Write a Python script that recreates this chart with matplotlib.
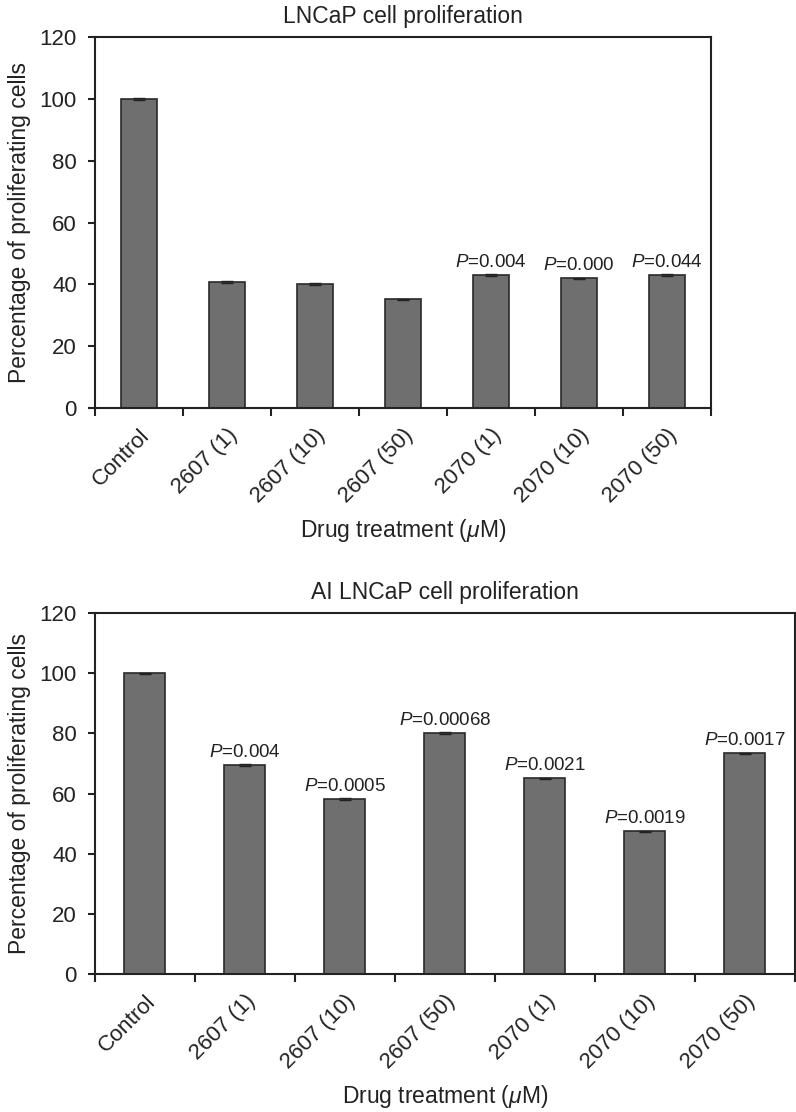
import matplotlib
matplotlib.use("Agg")
import matplotlib.pyplot as plt
import numpy as np

plt.rcParams['font.family'] = ['Liberation Sans', 'DejaVu Sans']
plt.rcParams['mathtext.fontset'] = 'custom'
plt.rcParams['mathtext.rm'] = 'Liberation Sans'
plt.rcParams['mathtext.it'] = 'Liberation Sans:italic'
plt.rcParams['text.color'] = '#222222'
plt.rcParams['axes.labelcolor'] = '#222222'
plt.rcParams['xtick.labelcolor'] = '#222222'
plt.rcParams['ytick.labelcolor'] = '#222222'

categories = ["Control", "2607 (1)", "2607 (10)", "2607 (50)",
              "2070 (1)", "2070 (10)", "2070 (50)"]

lncap_vals = [100, 40.7, 40.2, 35.2, 43.0, 42.0, 43.0]
lncap_err = [0.3, 0.3, 0.3, 0.2, 0.2, 0.2, 0.2]
lncap_p = [None, None, None, None, "0.004", "0.000", "0.044"]

ai_vals = [100, 69.5, 58.2, 80.0, 65.1, 47.5, 73.4]
ai_err = [0.2, 0.3, 0.3, 0.3, 0.2, 0.2, 0.2]
ai_p = [None, "0.004", "0.0005", "0.00068", "0.0021", "0.0019", "0.0017"]

yticks = [0, 20, 40, 60, 80, 100, 120]

fig = plt.figure(figsize=(7.96, 11.12), dpi=100)
ax1 = fig.add_axes([0.1193, 0.6331, 0.7739, 0.3336])
ax2 = fig.add_axes([0.1193, 0.1241, 0.8794, 0.3246])


def draw(ax, title, vals, err, pvals):
    x = np.arange(len(categories))
    ax.bar(x, vals, width=0.41, color="#6f6f6f", edgecolor="#2a2a2a",
           linewidth=1.2, yerr=err, capsize=4,
           error_kw=dict(ecolor="#222222", elinewidth=1, capthick=1))
    for xi, v, p in zip(x, vals, pvals):
        if p is None:
            continue
        ax.annotate(r"$P$=" + p, (xi, v), xytext=(0, 3),
                    textcoords="offset points", ha="center", va="bottom",
                    fontsize=13.5)
    ax.set_xlim(-0.5, len(categories) - 0.5)
    ax.set_ylim(0, 120)
    ax.set_yticks(yticks)
    ax.set_xticks(x)
    ax.set_xticklabels(categories, rotation=45, ha="right",
                       rotation_mode="anchor", fontsize=16)
    ax.set_xticks(np.arange(-0.5, len(categories)), minor=True)
    ax.tick_params(axis="x", which="major", length=0, pad=12)
    ax.tick_params(axis="x", which="minor", length=6, width=1.5,
                   direction="out", color="#222222")
    ax.tick_params(axis="y", length=5, width=1.5, direction="out",
                   labelsize=16, pad=8, color="#222222")
    for s in ax.spines.values():
        s.set_linewidth(1.5)
        s.set_color("#222222")
    ax.set_title(title, fontsize=16.5, pad=10)
    ax.set_ylabel("Percentage of proliferating cells", fontsize=16.5,
                  labelpad=6)
    ax.set_xlabel(r"Drug treatment ($\mathit{μ}$M)", fontsize=16.5,
                  labelpad=7)


draw(ax1, "LNCaP cell proliferation", lncap_vals, lncap_err, lncap_p)
draw(ax2, "AI LNCaP cell proliferation", ai_vals, ai_err, ai_p)

fig.savefig("out.png", dpi=100)
